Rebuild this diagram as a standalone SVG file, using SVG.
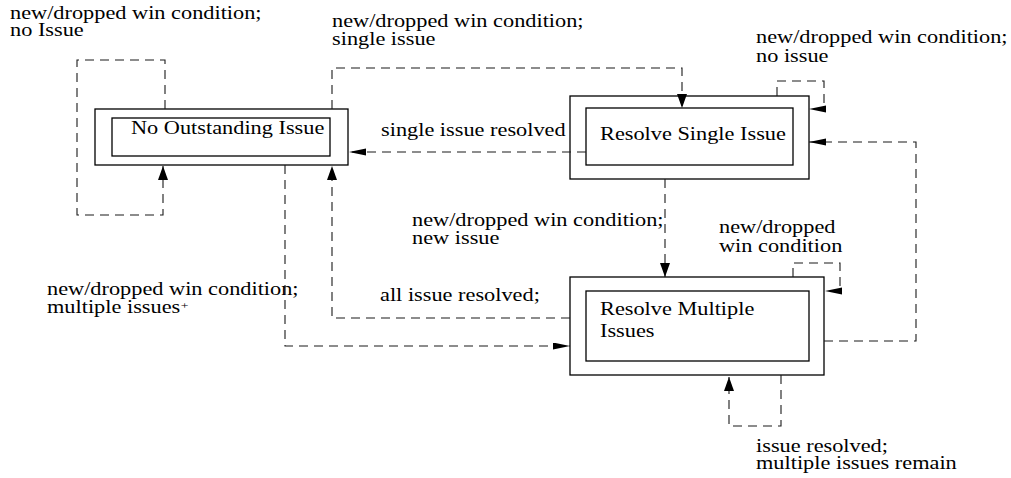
<svg xmlns="http://www.w3.org/2000/svg" width="1011" height="478" viewBox="0 0 1011 478">
  <style>
    .box { fill: #fff; stroke: #000; stroke-width: 1.3; }
    .inner { fill: none; stroke: #000; stroke-width: 1.3; }
    .edge { fill: none; stroke: #1a1a1a; stroke-width: 1.1; stroke-dasharray: 9 6; }
    .t { font-family: "Liberation Serif", "Times New Roman", serif; font-size: 18px; fill: #000; }
  </style>
  <defs>
    <!-- arrowheads for horizontal and vertical runs -->
    <marker id="ah" markerUnits="userSpaceOnUse" markerWidth="18" markerHeight="8" refX="17" refY="3.5" orient="auto">
      <path d="M0,0 L17,3.5 L0,7 z" fill="#000"/>
    </marker>
    <marker id="av" markerUnits="userSpaceOnUse" markerWidth="15" markerHeight="11" refX="14" refY="5" orient="auto">
      <path d="M0,0 L14,5 L0,10 z" fill="#000"/>
    </marker>
  </defs>

  <!-- states -->
  <g id="no-outstanding-issue">
    <rect class="box" x="95" y="109" width="253" height="56"/>
    <rect class="inner" x="112" y="118" width="218" height="38"/>
    <text class="t" transform="translate(131,134) scale(1.24,1)">No Outstanding Issue</text>
  </g>
  <g id="resolve-single-issue">
    <rect class="box" x="570" y="96" width="239" height="83"/>
    <rect class="inner" x="586" y="108" width="207" height="57"/>
    <text class="t" transform="translate(600,140) scale(1.24,1)">Resolve Single Issue</text>
  </g>
  <g id="resolve-multiple-issues">
    <rect class="box" x="570" y="277" width="254" height="98"/>
    <rect class="inner" x="586" y="291" width="223" height="70"/>
    <text class="t" transform="translate(600,315) scale(1.24,1)">Resolve Multiple<tspan x="0" dy="22">Issues</tspan></text>
  </g>

  <!-- transitions -->
  <g id="connectors">
    <path class="edge" d="M165,109 V60 H77 V215 H163 V166" marker-end="url(#av)"/>
    <path class="edge" d="M332,109 V68 H682 V108" marker-end="url(#av)"/>
    <path class="edge" d="M586,152 H349" marker-end="url(#ah)"/>
    <path class="edge" d="M777,96 V81 H824 V109 H809" marker-end="url(#ah)"/>
    <path class="edge" d="M824,341 H916 V142 H809" marker-end="url(#ah)"/>
    <path class="edge" d="M665,179 V277" marker-end="url(#av)"/>
    <path class="edge" d="M570,318 H332 V166" marker-end="url(#av)"/>
    <path class="edge" d="M285,165 V346 H570" marker-end="url(#ah)"/>
    <path class="edge" d="M793,277 V263 H840 V291 H825" marker-end="url(#ah)"/>
    <path class="edge" d="M781,375 V426 H729 V377" marker-end="url(#av)"/>
  </g>

  <!-- transition labels -->
  <g id="labels">
    <text class="t" transform="translate(10,18.5) scale(1.24,1)">new/dropped win condition;<tspan x="0" dy="18">no Issue</tspan></text>
    <text class="t" transform="translate(332,27) scale(1.24,1)">new/dropped win condition;<tspan x="0" dy="18">single issue</tspan></text>
    <text class="t" transform="translate(756,43) scale(1.24,1)">new/dropped win condition;<tspan x="0" dy="19">no issue</tspan></text>
    <text class="t" transform="translate(381,136) scale(1.24,1)">single issue resolved</text>
    <text class="t" transform="translate(412,226) scale(1.24,1)">new/dropped win condition;<tspan x="0" dy="18">new issue</tspan></text>
    <text class="t" transform="translate(380,301) scale(1.24,1)">all issue resolved;</text>
    <text class="t" transform="translate(47,295) scale(1.24,1)">new/dropped win condition;<tspan x="0" dy="18">multiple issues</tspan><tspan dx="0.5" dy="-4" font-size="11">+</tspan></text>
    <text class="t" transform="translate(719,233) scale(1.24,1)">new/dropped<tspan x="0" dy="19">win condition</tspan></text>
    <text class="t" transform="translate(756,451.5) scale(1.24,1)">issue resolved;<tspan x="0" dy="18">multiple issues remain</tspan></text>
  </g>
</svg>
